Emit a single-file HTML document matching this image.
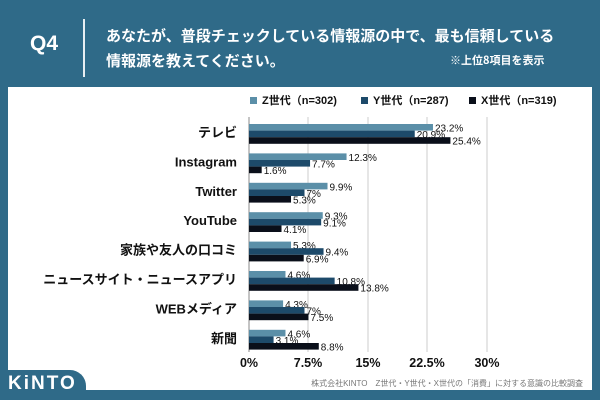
<!DOCTYPE html>
<html><head><meta charset="utf-8"><style>
body{margin:0;width:600px;height:400px;background:#2f6a88;overflow:hidden;font-family:"Liberation Sans","Noto Sans CJK JP",sans-serif;position:relative}
.a{position:absolute}
</style></head><body>
<div class="a" style="left:30px;top:32px;color:#fff;font-size:21px;font-weight:bold">Q4</div>
<div class="a" style="left:83px;top:19px;width:2px;height:58px;background:#e8eef2"></div>
<div class="a" style="left:106px;top:23px;color:#fff;font-size:15px;font-weight:bold;line-height:25px;font-family:'Noto Sans CJK JP',sans-serif">あなたが、普段チェックしている情報源の中で、最も信頼している<br>情報源を教えてください。</div>
<div class="a" style="left:450px;top:52px;color:#fff;font-size:11px;font-weight:bold;font-family:'Noto Sans CJK JP',sans-serif">※上位8項目を表示</div>
<div class="a" style="left:8px;top:87px;width:584px;height:303px;background:#fff"></div>
<div class="a" style="left:0;top:370px;width:86px;height:30px;background:#2f6a88;border-top-right-radius:16px"></div>
<div class="a" style="left:8px;top:373px;color:#fff;font-size:19px;font-weight:bold;letter-spacing:2px">KiNTO</div>
<svg class="a" style="left:0;top:0" width="600" height="400" font-family="Liberation Sans, Noto Sans CJK JP, sans-serif">
<g font-size="11" font-weight="bold" fill="#111">
<rect x="250" y="97" width="7" height="7" fill="#5b8fa8"/><text x="262" y="104">Z世代（n=302)</text>
<rect x="361" y="97" width="7" height="7" fill="#1d4a6a"/><text x="373" y="104">Y世代（n=287)</text>
<rect x="469" y="97" width="7" height="7" fill="#0a0f1a"/><text x="481" y="104">X世代（n=319)</text>
</g>
<g stroke="#ccc" stroke-width="1"><line x1="308" y1="117" x2="308" y2="352"/><line x1="368" y1="117" x2="368" y2="352"/><line x1="427" y1="117" x2="427" y2="352"/><line x1="487" y1="117" x2="487" y2="352"/></g>
<line x1="249" y1="117" x2="249" y2="352" stroke="#888"/>
<g font-size="10" fill="#111" id="bars"></g>
<g font-size="12.5" font-weight="bold" fill="#111" text-anchor="middle">
<text x="249" y="367">0%</text><text x="308" y="367">7.5%</text><text x="368" y="367">15%</text><text x="427" y="367">22.5%</text><text x="487" y="367">30%</text></g>
<text x="583" y="386" font-size="8" fill="#777" text-anchor="end">株式会社KINTO　Z世代・Y世代・X世代の「消費」に対する意識の比較調査</text>
</svg>
<script>
var d=[["テレビ",23.2,20.9,25.4],["Instagram",12.3,7.7,1.6],["Twitter",9.9,7,5.3],["YouTube",9.3,9.1,4.1],["家族や友人の口コミ",5.3,9.4,6.9],["ニュースサイト・ニュースアプリ",4.6,10.8,13.8],["WEBメディア",4.3,7,7.5],["新聞",4.6,3.1,8.8]];
var c=["#5b8fa8","#1d4a6a","#0a0f1a"],s="",ns="http://www.w3.org/2000/svg";
d.forEach(function(r,i){var y0=124+i*29.4;
s+='<text x="237" y="'+(y0+13)+'" text-anchor="end" font-size="13" font-weight="bold">'+r[0]+'</text>';
for(var k=0;k<3;k++){var w=r[k+1]*7.93,y=y0+k*6.6;
s+='<rect x="249" y="'+y+'" width="'+w+'" height="6.6" fill="'+c[k]+'"/>';
s+='<text x="'+(251+w)+'" y="'+(y+7.5)+'">'+r[k+1]+'%</text>';}});
document.getElementById("bars").innerHTML=s;
</script>
</body></html>
